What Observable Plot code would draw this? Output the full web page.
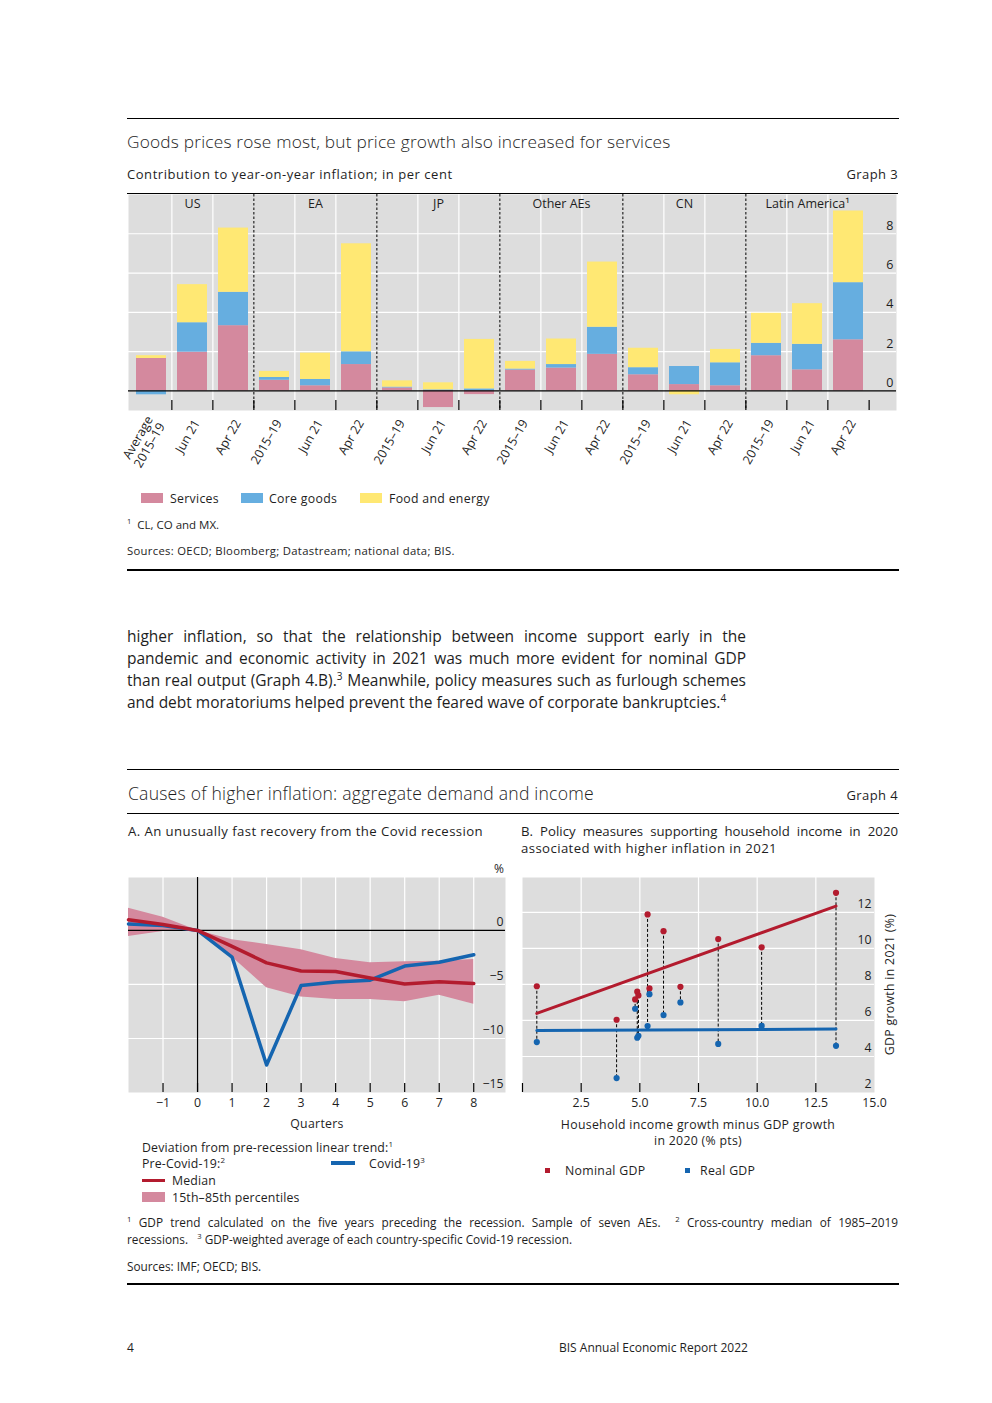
<!DOCTYPE html>
<html><head><meta charset="utf-8">
<script src="https://cdn.jsdelivr.net/npm/d3@7"></script>
<script src="https://cdn.jsdelivr.net/npm/@observablehq/plot@0.6"></script>
<style>
body{margin:0;background:#fff;}
#page{position:relative;width:992px;height:1403px;font-family:"Open Sans",sans-serif;color:#1e1e1e;overflow:hidden;}
.t{position:absolute;white-space:nowrap;}
.rule{position:absolute;background:#000;}
.box{position:absolute;}
sup{font-size:65%;line-height:0;vertical-align:super;}
</style></head><body><div id="page"></div>
<script>
// ---------------- Graph 3 data ----------------
const g3Groups = ["US","EA","JP","Other AEs","CN","Latin America¹"];
const g3Categories = ["US-avg","US-jun21","US-apr22","EA-avg","EA-jun21","EA-apr22","JP-avg","JP-jun21","JP-apr22",
  "OAE-avg","OAE-jun21","OAE-apr22","CN-avg","CN-jun21","CN-apr22","LA-avg","LA-jun21","LA-apr22"];
const g3TickLabels = ["Average\n2015–19","Jun 21","Apr 22","2015–19","Jun 21","Apr 22","2015–19","Jun 21","Apr 22",
  "2015–19","Jun 21","Apr 22","2015–19","Jun 21","Apr 22","2015–19","Jun 21","Apr 22"];
const g3GroupMid = ["US-jun21","EA-jun21","JP-jun21","OAE-jun21","CN-jun21","LA-jun21"];
const components = ["Services","Core goods","Food and energy"];
const services   = [1.65,1.97,3.32, 0.54,0.26,1.34, 0.15,-0.85,-0.19, 1.06,1.16,1.86, 0.82,0.32,0.26, 1.79,1.07,2.60];
const coreGoods  = [-0.20,1.50,1.70, 0.14,0.32,0.65, 0.04,0.05,0.10, 0.05,0.18,1.38, 0.36,0.92,1.17, 0.63,1.30,2.91];
const foodEnergy = [0.14,1.94,3.27, 0.31,1.34,5.50, 0.32,0.36,2.52, 0.39,1.30,3.32, 0.99,-0.20,0.68, 1.53,2.07,3.65];
const g3YTicks = [0,2,4,6,8];

// ---------------- Graph 4A data ----------------
const quarters = [-2,-1,0,1,2,3,4,5,6,7,8];
const median   = [0.98,0.55,0,-1.48,-3.0,-3.75,-3.8,-4.4,-4.95,-4.74,-4.92];
const p85      = [2.06,1.23,0,-0.86,-1.29,-1.78,-2.6,-3.0,-2.9,-2.85,-2.7];
const p15      = [-0.55,-0.1,0,-2.46,-5.3,-6.15,-6.4,-6.4,-6.6,-6.0,-6.83];
const covid    = [0.6,0.45,0,-2.46,-12.46,-5.1,-4.77,-4.6,-3.3,-2.95,-2.25];
const qTicks = [-1,0,1,2,3,4,5,6,7,8];
const aYTicks = [0,-5,-10,-15];

// ---------------- Graph 4B data ----------------
const incomeGap  = [0.61,4.01,4.80,4.89,4.94,5.33,5.41,6.01,6.73,8.34,10.19,13.36];
const nominalGdp = [7.90,6.04,7.17,7.60,7.39,11.89,7.78,10.96,7.87,10.52,10.06,13.09];
const realGdp    = [4.80,2.80,6.65,5.04,5.15,5.69,7.46,6.30,7.00,4.70,5.70,4.59];
const trendX       = [0.61,13.36];
const nominalTrend = [6.39,12.35];
const realTrend    = [5.44,5.52];
const bXTicks = [2.5,5,7.5,10,12.5,15];
const bYTicks = [2,4,6,8,10,12];

// ---------------- styles ----------------
const BG = "#dddddd";
const PINK = "#d4899e", BLUE = "#66aee0", YELLOW = "#ffe873";
const RED = "#b31b2e", DBLUE = "#1565b0";
const FONT = "Open Sans";
const page = document.getElementById("page");
const W = 992;

function txt(html, x, y, o = {}) {
  const d = document.createElement("div");
  d.className = "t";
  d.innerHTML = html;
  const size = o.size || 12;
  const lh = o.lh || Math.round(size * 1.4);
  d.style.fontSize = size + "px";
  d.style.lineHeight = lh + "px";
  d.style.top = (y - lh / 2) + "px";
  if (o.anchor === "end") d.style.right = (W - x) + "px";
  else if (o.anchor === "middle") { d.style.left = x + "px"; d.style.transform = "translateX(-50%)"; }
  else d.style.left = x + "px";
  if (o.weight) d.style.fontWeight = o.weight;
  if (o.ls) d.style.letterSpacing = o.ls;
  if (o.width) { d.style.width = o.width + "px"; d.style.textAlign = "justify"; if (o.justify) d.style.textAlignLast = "justify"; }
  page.appendChild(d);
  return d;
}
function hrule(x1, x2, y, h = 1) {
  const d = document.createElement("div");
  d.className = "rule";
  Object.assign(d.style, {left: x1 + "px", width: (x2 - x1) + "px", top: (y - h / 2) + "px", height: h + "px"});
  page.appendChild(d);
}
function box(x, y, w, h, color) {
  const d = document.createElement("div");
  d.className = "box";
  Object.assign(d.style, {left: x + "px", top: y + "px", width: w + "px", height: h + "px", background: color});
  page.appendChild(d);
}
function place(svg, x, y) {
  const wrap = document.createElement("div");
  wrap.style.position = "absolute"; wrap.style.left = x + "px"; wrap.style.top = y + "px";
  wrap.appendChild(svg);
  page.appendChild(wrap);
}

// ---------------- Graph 3 header ----------------
hrule(127, 899, 118, 1);
txt("Goods prices rose most, but price growth also increased for services", 127, 142, {size: 17.3, weight: 300, ls: "0.2px"});
txt("Contribution to year-on-year inflation; in per cent", 127, 174, {size: 13, ls: "0.55px"});
txt("Graph 3", 898, 174, {size: 13, anchor: "end", ls: "0.4px"});
hrule(127, 898, 193.5, 1);

// ---------------- Graph 3 chart ----------------
const g3Rows = [];
g3Categories.forEach((c, i) => {
  g3Rows.push({cat: c, comp: components[0], value: services[i]});
  g3Rows.push({cat: c, comp: components[1], value: coreGoods[i]});
  g3Rows.push({cat: c, comp: components[2], value: foodEnergy[i]});
});
const g3PlotW = 743, g3Right = 25, g3PlotH = 216;
const step = g3PlotW / g3Categories.length;
const innerBounds = g3Categories.filter((c, i) => i % 3 !== 0);
const groupBounds = g3Categories.filter((c, i) => i > 0 && i % 3 === 0);
const allBounds = g3Categories.slice(1);
const lastCat = g3Categories.slice(-1);

const g3 = Plot.plot({
  width: g3PlotW + g3Right, height: g3PlotH + 70,
  marginTop: 0, marginLeft: 0, marginRight: g3Right, marginBottom: 70,
  style: {overflow: "visible", fontFamily: FONT, background: "transparent", color: "#1e1e1e"},
  x: {domain: g3Categories, paddingInner: 0.27, paddingOuter: 0.135, axis: null},
  y: {domain: [-1, 10], axis: null},
  color: {domain: components, range: [PINK, BLUE, YELLOW]},
  marks: [
    Plot.frame({fill: BG, stroke: null, insetRight: -g3Right}),
    Plot.ruleY([2, 4, 6, 8], {stroke: "#fff", strokeWidth: 1.2, insetRight: -g3Right}),
    Plot.ruleX(innerBounds, {x: d => d, dx: -step / 2, stroke: "#fff", strokeWidth: 1.2}),
    Plot.barY(g3Rows, Plot.stackY({x: "cat", y: "value", fill: "comp", order: components})),
    Plot.ruleY([0], {stroke: "#000", strokeWidth: 1.2, insetRight: -g3Right}),
    Plot.ruleX(groupBounds, {x: d => d, dx: -step / 2, stroke: "#000", strokeDasharray: "2.5,2", strokeWidth: 1}),
    Plot.ruleX(allBounds, {x: d => d, dx: -step / 2, stroke: "#000", strokeWidth: 1.2, insetTop: g3PlotH - 10}),
    Plot.ruleX(lastCat, {x: d => d, dx: step / 2, stroke: "#000", strokeWidth: 1.2, insetTop: g3PlotH - 10}),
    Plot.text(g3Groups, {x: g3GroupMid, text: d => d, frameAnchor: "top", dy: 5, fontSize: 12.5, fill: "#1e1e1e"}),
    Plot.axisX({tickRotate: -60, tickSize: 0, tickPadding: 10, dx: 4, fontSize: 12.5, lineHeight: 1.1, label: null,
      tickFormat: c => g3TickLabels[g3Categories.indexOf(c)]}),
    Plot.axisY({anchor: "right", ticks: g3YTicks, tickSize: 0, tickPadding: 0, textAnchor: "end", dx: 22, dy: -8, fontSize: 12.5, label: null})
  ]
});
place(g3, 128, 194);

// Graph 3 legend
box(141, 493, 22, 10, PINK);   txt("Services", 170, 498, {size: 12.3, ls: "0.3px"});
box(241, 493, 22, 10, BLUE);   txt("Core goods", 269, 498, {size: 12.3, ls: "0.3px"});
box(360, 493, 22, 10, YELLOW); txt("Food and energy", 389, 498, {size: 12.3, ls: "0.3px"});
txt("<sup>1</sup>&nbsp; CL, CO and MX.", 127, 525, {size: 11.5});
txt("Sources: OECD; Bloomberg; Datastream; national data; BIS.", 127, 551, {size: 11.3, ls: "0.3px"});
hrule(127, 899, 570, 2);

// ---------------- Body text ----------------
const bodyLines = [
  "higher inflation, so that the relationship between income support early in the",
  "pandemic and economic activity in 2021 was much more evident for nominal GDP",
  "than real output (Graph 4.B).<sup>3</sup> Meanwhile, policy measures such as furlough schemes",
  "and debt moratoriums helped prevent the feared wave of corporate bankruptcies.<sup>4</sup>"
];
bodyLines.forEach((l, i) => txt(l, 127, 636 + i * 22, {size: 15.5, lh: 22, width: 619, justify: i < 3}));

// ---------------- Graph 4 header ----------------
hrule(127, 899, 769, 1);
txt("Causes of higher inflation: aggregate demand and income", 128, 793, {size: 17.6, weight: 300, ls: "0.2px"});
txt("Graph 4", 898, 795, {size: 13, anchor: "end", ls: "0.4px"});
hrule(127, 899, 813, 1);
txt("A. An unusually fast recovery from the Covid recession", 128, 831, {size: 13.2, ls: "0.4px"});
txt("B. Policy measures supporting household income in 2020", 521, 831, {size: 13.2, width: 377, justify: true});
txt("associated with higher inflation in 2021", 521, 848, {size: 13.2, ls: "0.4px"});

// ---------------- Panel A ----------------
const rowsA = quarters.map((q, i) => ({q, median: median[i], covid: covid[i], lo: p15[i], hi: p85[i]}));
const aW = 377, aH = 215;
const panelA = Plot.plot({
  width: aW, height: aH + 40,
  marginTop: 0, marginLeft: 0, marginRight: 0, marginBottom: 40,
  style: {overflow: "visible", fontFamily: FONT, background: "transparent", color: "#1e1e1e"},
  x: {domain: [-2, 8.92], axis: null},
  y: {domain: [-15, 4.9], axis: null},
  marks: [
    Plot.frame({fill: BG, stroke: null}),
    Plot.ruleY([-5, -10], {stroke: "#fff", strokeWidth: 1.2}),
    Plot.ruleX(qTicks.filter(d => d !== 0), {stroke: "#fff", strokeWidth: 1.2}),
    Plot.areaY(rowsA, {x: "q", y1: "lo", y2: "hi", fill: PINK}),
    Plot.ruleY([0], {stroke: "#000", strokeWidth: 1.2}),
    Plot.ruleX([0], {stroke: "#000", strokeWidth: 1.2}),
    Plot.lineY(rowsA, {x: "q", y: "covid", stroke: DBLUE, strokeWidth: 3.5}),
    Plot.lineY(rowsA, {x: "q", y: "median", stroke: RED, strokeWidth: 3.5}),
    Plot.ruleX(qTicks, {stroke: "#000", strokeWidth: 1.2, insetTop: aH - 9}),
    Plot.axisX({ticks: qTicks, tickSize: 0, tickPadding: 6, fontSize: 12.3, label: null}),
    Plot.axisY({anchor: "right", ticks: aYTicks, tickSize: 0, tickPadding: 0, textAnchor: "end", dx: -2, dy: -8, fontSize: 12.3, label: null})
  ]
});
place(panelA, 128, 877);
txt("%", 499, 868, {size: 12, anchor: "middle"});
txt("Quarters", 317, 1123, {size: 12.3, anchor: "middle", ls: "0.3px"});
txt("Deviation from pre-recession linear trend:<sup>1</sup>", 142, 1147, {size: 12.3, ls: "0.15px"});
txt("Pre-Covid-19:<sup>2</sup>", 142, 1163, {size: 12.3, ls: "0.15px"});
box(331, 1161, 24, 3.5, DBLUE);
txt("Covid-19<sup>3</sup>", 369, 1163, {size: 12.3, ls: "0.15px"});
box(142, 1178.5, 23, 3.5, RED);
txt("Median", 172, 1180, {size: 12.3, ls: "0.15px"});
box(142, 1192, 23, 10, PINK);
txt("15th–85th percentiles", 172, 1197, {size: 12.3, ls: "0.15px"});

// ---------------- Panel B ----------------
const rowsB = incomeGap.map((x, i) => ({x, nominal: nominalGdp[i], real: realGdp[i]}));
const trendRows = trendX.map((x, i) => ({x, nominal: nominalTrend[i], real: realTrend[i]}));
const bW = 352, bH = 215;
const panelB = Plot.plot({
  width: bW, height: bH + 40,
  marginTop: 0, marginLeft: 0, marginRight: 0, marginBottom: 40,
  style: {overflow: "visible", fontFamily: FONT, background: "transparent", color: "#1e1e1e"},
  x: {domain: [0, 15], axis: null},
  y: {domain: [2, 13.94], axis: null},
  marks: [
    Plot.frame({fill: BG, stroke: null}),
    Plot.ruleY([4, 6, 8, 10, 12], {stroke: "#fff", strokeWidth: 1.2}),
    Plot.ruleX([2.5, 5, 7.5, 10, 12.5], {stroke: "#fff", strokeWidth: 1.2}),
    Plot.ruleX(rowsB, {x: "x", y1: "nominal", y2: "real", stroke: "#000", strokeWidth: 1, strokeDasharray: "3,2"}),
    Plot.line(trendRows, {x: "x", y: "real", stroke: DBLUE, strokeWidth: 3}),
    Plot.line(trendRows, {x: "x", y: "nominal", stroke: RED, strokeWidth: 3}),
    Plot.dot(rowsB, {x: "x", y: "nominal", fill: RED, r: 3.1}),
    Plot.dot(rowsB, {x: "x", y: "real", fill: DBLUE, r: 3.1}),
    Plot.ruleX([0, 2.5, 5, 7.5, 10, 12.5], {stroke: "#000", strokeWidth: 1.2, insetTop: bH - 9}),
    Plot.axisX({ticks: bXTicks, tickSize: 0, tickPadding: 6, fontSize: 12.3, tickFormat: d3.format(".1f"), label: null}),
    Plot.axisY({anchor: "right", ticks: bYTicks, tickSize: 0, tickPadding: 0, textAnchor: "end", dx: -3, dy: -8, fontSize: 12.3, label: null})
  ]
});
place(panelB, 522, 877);
const yt = txt("GDP growth in 2021 (%)", 889, 984, {size: 12.3, anchor: "middle", ls: "0.3px"});
yt.style.transform = "translateX(-50%) rotate(-90deg)";
txt("Household income growth minus GDP growth", 698, 1124, {size: 12.3, anchor: "middle", ls: "0.3px"});
txt("in 2020 (% pts)", 698, 1140, {size: 12.3, anchor: "middle", ls: "0.3px"});
box(545, 1168, 5, 5, RED);
txt("Nominal GDP", 565, 1170, {size: 12.3, ls: "0.3px"});
box(685, 1168, 5, 5, DBLUE);
txt("Real GDP", 700, 1170, {size: 12.3, ls: "0.3px"});

// ---------------- Graph 4 footnotes ----------------
txt("<sup>1</sup> GDP trend calculated on the five years preceding the recession. Sample of seven AEs.&nbsp; <sup>2</sup> Cross-country median of 1985–2019", 127, 1222, {size: 11.8, width: 771, justify: true});
txt("recessions.&nbsp;&nbsp; <sup>3</sup> GDP-weighted average of each country-specific Covid-19 recession.", 127, 1239, {size: 11.8});
txt("Sources: IMF; OECD; BIS.", 127, 1266, {size: 11.8});
hrule(127, 899, 1284, 2);

// ---------------- Page footer ----------------
txt("4", 127, 1347, {size: 12});
txt("BIS Annual Economic Report 2022", 559, 1347, {size: 12});
</script></body></html>
